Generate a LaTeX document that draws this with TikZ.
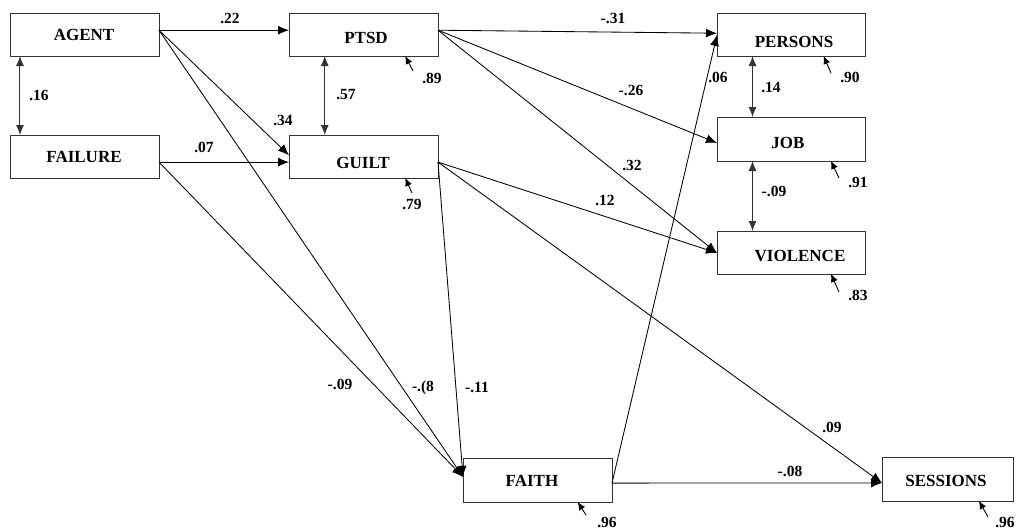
\documentclass[tikz,border=0pt]{standalone}
\usepackage{fontspec}
\setmainfont{Liberation Serif}
\usetikzlibrary{arrows.meta,calc}
\begin{document}
\begin{tikzpicture}[x=1pt,y=-1pt,
  box/.style={draw=black!80, line width=1pt, minimum width=149pt, minimum height=43pt, inner sep=0pt, outer sep=0pt},
  vname/.style={font=\fontsize{17}{20}\selectfont\bfseries, inner sep=0pt},
  coef/.style={font=\fontsize{15.5}{18}\selectfont\bfseries, inner sep=0pt},
  pth/.style={line width=0.85pt, draw=black, -{Latex[length=11pt,width=9pt]}},
  cov/.style={line width=1pt, draw=black!80, {Latex[length=10pt,width=8pt]}-{Latex[length=10pt,width=8pt]}},
  res/.style={line width=0.9pt, draw=black, -{Latex[length=8pt,width=7pt]}}]
\fill[white] (0,0) rectangle (1022,531);
\useasboundingbox (0,0) rectangle (1022,531);
% boxes
\node[box] (agent) at (84.5,34.5) {};
\node[box] (failure) at (84.5,156.5) {};
\node[box] (ptsd) at (363.5,34.5) {};
\node[box] (guilt) at (363.5,156.5) {};
\node[box, minimum width=148pt] (persons) at (791,34.5) {};
\node[box, minimum width=148pt, minimum height=44pt] (job) at (791,139) {};
\node[box, minimum width=148pt] (violence) at (791,252.5) {};
\node[box, minimum height=44pt] (faith) at (537.5,480) {};
\node[box, minimum width=131pt, minimum height=44pt] (sessions) at (947.5,479) {};
% box texts
\node[vname] (tagent) at (84,35) {AGENT};
\node[vname] (tfailure) at (84,157) {FAILURE};
\node[vname] (tptsd) at (366,38) {PTSD};
\node[vname] (tguilt) at (363,163) {GUILT};
\node[vname] (tpersons) at (794,42) {PERSONS};
\node[vname] (tjob) at (788,143) {JOB};
\node[vname] (tviolence) at (800,256) {VIOLENCE};
\node[vname] (tfaith) at (532,481) {FAITH};
\node[vname] (tsessions) at (946,481) {SESSIONS};
% paths
\draw[pth] ($(agent.north east)!0.40!(agent.south east)$) -- ($(ptsd.north west)!0.40!(ptsd.south west)$);
\draw[pth] ($(agent.north east)!0.40!(agent.south east)$) -- ($(guilt.north west)!0.47!(guilt.south west)$);
\draw[pth] ($(agent.north east)!0.40!(agent.south east)$) -- ($(faith.north west)!0.43!(faith.south west)$);
\draw[pth] ($(failure.north east)!0.63!(failure.south east)$) -- ($(guilt.north west)!0.63!(guilt.south west)$);
\draw[pth] ($(failure.north east)!0.63!(failure.south east)$) -- ($(faith.north west)!0.43!(faith.south west)$);
\draw[pth] ($(ptsd.north east)!0.40!(ptsd.south east)$) -- ($(persons.north west)!0.47!(persons.south west)$);
\draw[pth] ($(ptsd.north east)!0.40!(ptsd.south east)$) -- ($(job.north west)!0.59!(job.south west)$);
\draw[pth] ($(ptsd.north east)!0.40!(ptsd.south east)$) -- ($(violence.north west)!0.51!(violence.south west)$);
\draw[pth] ($(guilt.north east)!0.63!(guilt.south east)$) -- ($(violence.north west)!0.51!(violence.south west)$);
\draw[pth] ($(guilt.north east)!0.63!(guilt.south east)$) -- ($(sessions.north west)!0.59!(sessions.south west)$);
\draw[pth] ($(guilt.north east)!0.63!(guilt.south east)$) -- ($(faith.north west)!0.43!(faith.south west)$);
\draw[pth] ($(faith.north east)!0.57!(faith.south east)$) -- ($(sessions.north west)!0.59!(sessions.south west)$);
\draw[pth] ($(faith.north east)!0.57!(faith.south east)$) -- ($(persons.north west)!0.51!(persons.south west)$);
% covariances
\draw[cov] ($(agent.south west)!0.067!(agent.south east)$) -- ($(failure.north west)!0.067!(failure.north east)$);
\draw[cov] ($(ptsd.south west)!0.24!(ptsd.south east)$) -- ($(guilt.north west)!0.24!(guilt.north east)$);
\draw[cov] ($(persons.south west)!0.24!(persons.south east)$) -- ($(job.north west)!0.24!(job.north east)$);
\draw[cov] ($(job.south west)!0.24!(job.south east)$) -- ($(violence.north west)!0.24!(violence.north east)$);
% residuals
\coordinate (rptsd) at (413,71);
\coordinate (rguilt) at (412,193);
\coordinate (rpersons) at (831,73);
\coordinate (rjob) at (839,178);
\coordinate (rviolence) at (839,292);
\coordinate (rfaith) at (586,515);
\coordinate (rsessions) at (988,517);
\draw[res] (rptsd) -- ($(ptsd.south west)!0.78!(ptsd.south east)$);
\draw[res] (rguilt) -- ($(guilt.south west)!0.78!(guilt.south east)$);
\draw[res] (rpersons) -- ($(persons.south west)!0.72!(persons.south east)$);
\draw[res] (rjob) -- ($(job.south west)!0.77!(job.south east)$);
\draw[res] (rviolence) -- ($(violence.south west)!0.77!(violence.south east)$);
\draw[res] (rfaith) -- ($(faith.south west)!0.77!(faith.south east)$);
\draw[res] (rsessions) -- ($(sessions.south west)!0.74!(sessions.south east)$);
% coefficients
\node[coef] (c1) at (230,18) {.22};
\node[coef] (c2) at (39,95) {.16};
\node[coef] (c3) at (283,120) {.34};
\node[coef] (c4) at (204,147) {.07};
\node[coef] (c5) at (346,95) {.57};
\node[coef] (c6) at (432,78) {.89};
\node[coef] (c7) at (412,204) {.79};
\node[coef] (c8) at (613,18) {-.31};
\node[coef] (c9) at (631,90) {-.26};
\node[coef] (c10) at (632,165) {.32};
\node[coef] (c11) at (605,200) {.12};
\node[coef] (c12) at (718,77) {.06};
\node[coef] (c13) at (771,87) {.14};
\node[coef] (c14) at (850,77) {.90};
\node[coef] (c15) at (858,182) {.91};
\node[coef] (c16) at (774,191) {-.09};
\node[coef] (c17) at (858,295) {.83};
\node[coef] (c18) at (340,384) {-.09};
\node[coef] (c19) at (423,388) {-.(8};
\node[coef] (c20) at (477,387) {-.11};
\node[coef] (c21) at (832,427) {.09};
\node[coef] (c22) at (790,471) {-.08};
\node[coef] (c23) at (607,522) {.96};
\node[coef] (c24) at (1005,522) {.96};
\end{tikzpicture}
\end{document}
